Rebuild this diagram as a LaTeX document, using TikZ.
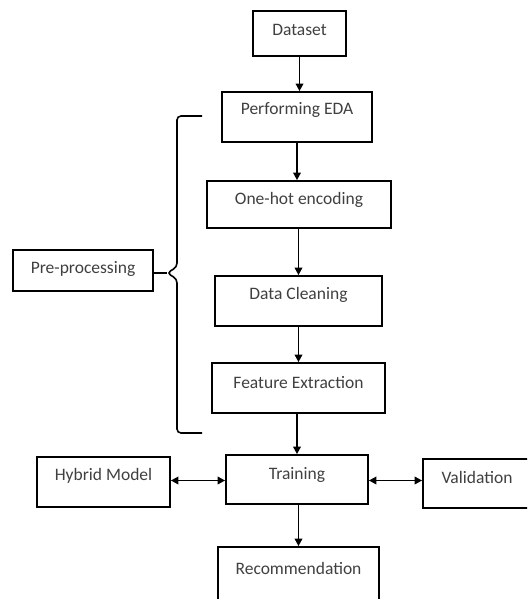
\documentclass[tikz,border=0pt]{standalone}
\usepackage{fontspec}
\setmainfont{Carlito}
\usetikzlibrary{arrows.meta}
\tikzset{
  boxnode/.style={draw=black, line width=1.7pt, rectangle, inner sep=0pt},
  lbl/.style={font=\fontsize{17.5}{20}\selectfont, text=black!75, inner sep=0pt},
  conn/.style={line width=1.7pt, -{Triangle[length=7.5pt,width=7.5pt]}},
  dconn/.style={line width=1.7pt, {Triangle[length=7.5pt,width=7.5pt]}-{Triangle[length=7.5pt,width=7.5pt]}},
  bracepath/.style={line width=1.6pt, rounded corners=4pt}
}
\begin{document}
\begin{tikzpicture}[x=1pt,y=-1pt]
\clip (0,0) rectangle (527,599);
\fill[white] (0,0) rectangle (527,599);
% boxes
\node[boxnode, minimum width=93pt, minimum height=45pt] (ds) at (299.5,33.5) {};
\node[boxnode, minimum width=150pt, minimum height=50pt] (eda) at (297,117) {};
\node[boxnode, minimum width=184pt, minimum height=47pt] (oh) at (299,204.5) {};
\node[boxnode, minimum width=167pt, minimum height=50pt] (dc) at (298.5,301) {};
\node[boxnode, minimum width=173pt, minimum height=50pt] (fe) at (298.5,388) {};
\node[boxnode, minimum width=142pt, minimum height=49pt] (tr) at (297,479.5) {};
\node[boxnode, minimum width=133pt, minimum height=50pt] (hm) at (103.5,482) {};
\node[boxnode, minimum width=108pt, minimum height=49pt] (va) at (477,483.5) {};
\node[boxnode, minimum width=161pt, minimum height=54pt] (rc) at (298.5,574) {};
\node[boxnode, minimum width=140pt, minimum height=41pt] (pp) at (83,270.5) {};
% labels
\node[lbl] (tds) at (299.5,30) {Dataset};
\node[lbl] (teda) at (297,110) {Performing EDA};
\node[lbl] (toh) at (299,200) {One-hot encoding};
\node[lbl] (tdc) at (298.5,295) {Data Cleaning};
\node[lbl] (tfe) at (298.5,383) {Feature Extraction};
\node[lbl] (ttr) at (297,475) {Training};
\node[lbl] (thm) at (103.5,476) {Hybrid Model};
\node[lbl] (tva) at (477,477) {Validation};
\node[lbl] (trc) at (298.5,568) {Recommendation};
\node[lbl] (tpp) at (83,269) {Pre-processing};
% vertical connectors
\draw[conn] (ds.south) -- (ds.south |- eda.north);
\draw[conn] (eda.south) -- (eda.south |- oh.north);
\draw[conn] (dc.north |- oh.south) -- (dc.north);
\draw[conn] (dc.south) -- (dc.south |- fe.north);
\draw[conn] (tr.north |- fe.south) -- (tr.north);
\draw[conn] (rc.north |- tr.south) -- (rc.north);
% horizontal connectors
\coordinate (hy) at (0,480.5);
\draw[dconn] (hm.east |- hy) -- (tr.west |- hy);
\draw[dconn] (tr.east |- hy) -- (va.west |- hy);
% brace
\coordinate (btop) at (202,116);
\coordinate (bbot) at (202,433);
\coordinate (btip) at (167,273);
\draw[bracepath] (btop) -- (177,116) -- (177,267) -- (btip) -- (177,279) -- (177,433) -- (bbot);
\draw[line width=1.6pt] (pp.east |- btip) -- (btip);
\end{tikzpicture}
\end{document}
